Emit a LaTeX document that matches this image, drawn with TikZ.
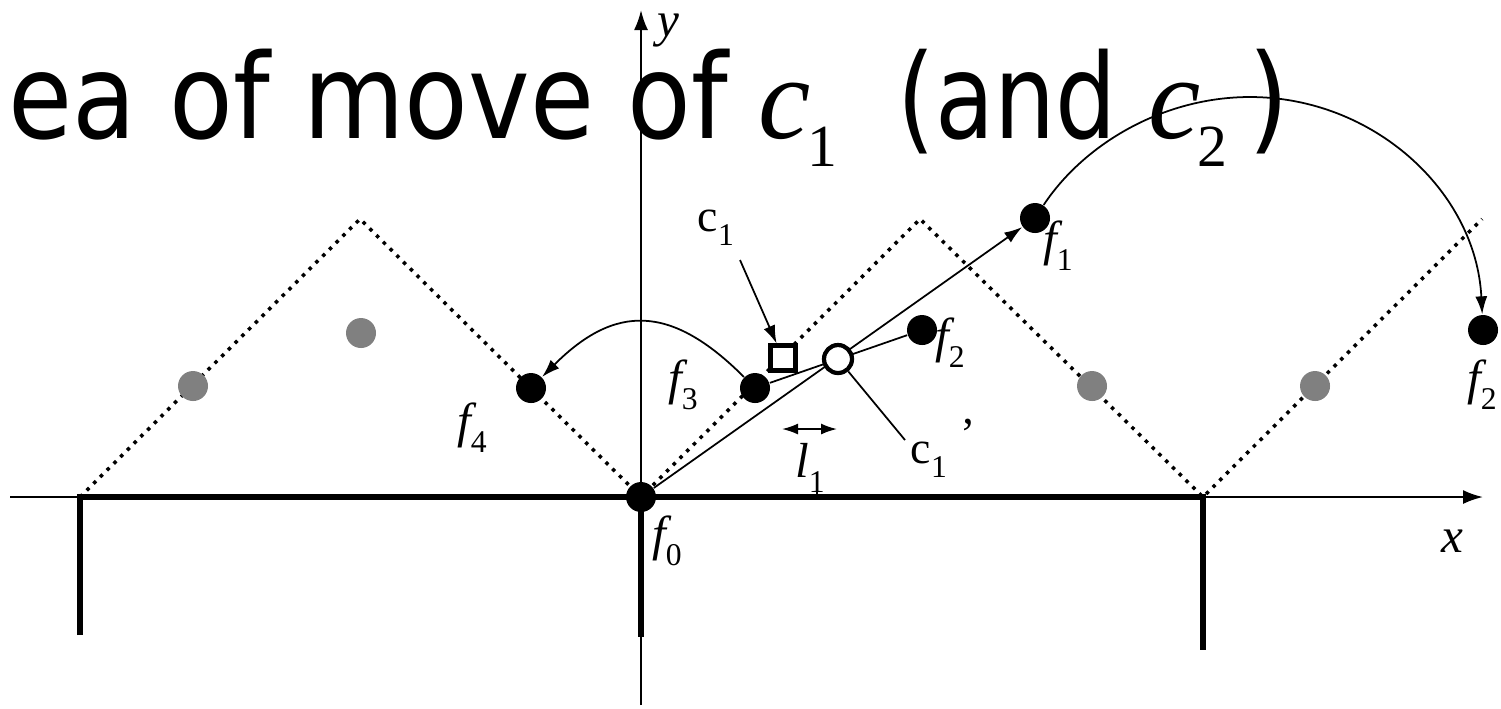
\documentclass[tikz,border=0pt]{standalone}
\usepackage{fontspec}
\usepackage{graphicx}
\setmainfont{Liberation Serif}
\newfontfamily\titlefont{DejaVu Sans}
\usetikzlibrary{arrows.meta, positioning, calc}

% label with an upright subscript
\newcommand{\sublab}[2]{#1\raisebox{-0.3em}{\fontsize{9}{9}\selectfont\upshape #2}}

\begin{document}
\begin{tikzpicture}[x=0.1mm, y=-0.1mm,
    fdot/.style={circle, fill=black, inner sep=0pt, minimum size=3mm},
    ghost/.style={circle, fill=black!50, inner sep=0pt, minimum size=3mm},
    lbl/.style={inner sep=0pt, font=\fontsize{14}{14}\selectfont\itshape},
    clbl/.style={inner sep=0pt, font=\fontsize{13}{13}\selectfont\upshape},
    ttl/.style={inner sep=0pt, anchor=base west, font=\titlefont\fontsize{33.5}{34}\selectfont},
    ttlmath/.style={inner sep=0pt, anchor=base west, font=\fontsize{33.5}{34}\selectfont\itshape},
    wall/.style={line width=1.6pt},
    axis/.style={line width=0.6pt, -{Latex[length=2mm, width=1.4mm]}},
    conn/.style={line width=0.5pt},
    arr/.style={-{Latex[length=1.8mm, width=1.2mm]}},
    trail/.style={line width=1pt, dash pattern=on 1pt off 1.7pt}
]
    \useasboundingbox (0,0) rectangle (1501,708);

    % axes
    \coordinate (xl) at (10,497);
    \coordinate (xr) at (1483,497);
    \coordinate (yb) at (641,705);
    \coordinate (yt) at (641,10);
    \draw[axis] (xl) -- (xr);
    \draw[axis] (yb) -- (yt);
    \node[lbl] (xlab) at (1452,541) {x};
    \node[lbl] (ylab) at (668,30) {y};

    % walls
    \draw[wall] (80,635) -- (80,497) -- (1203,497) -- (1203,650);
    \draw[wall] (641,497) -- (641,637);

    % dotted zig-zag
    \draw[trail] (80,497) -- (360,219) -- (641,497) -- (920,219)
        -- (1203,497) -- (1482,219);

    \foreach \gx/\gy in {193/386, 361/333, 1092/386, 1315/386}
        \node[ghost] at (\gx,\gy) {};

    % points f
    \node[fdot] (f0) at (641,497) {};
    \node[fdot] (f1) at (1035,218) {};
    \node[fdot] (f2) at (922,330) {};
    \node[fdot] (f2b) at (1483,330) {};
    \node[fdot] (f3) at (755,388) {};
    \node[fdot] (f4) at (531,388) {};

    \node[lbl] (lf0) at (667,541) {\sublab{f}{0}};
    \node[lbl] (lf1) at (1058,246) {\sublab{f}{1}};
    \node[lbl] (lf2) at (950,343) {\sublab{f}{2}};
    \node[lbl] (lf2b) at (1482,385) {\sublab{f}{2}};
    \node[lbl] (lf3) at (683,385) {\sublab{f}{3}};
    \node[lbl] (lf4) at (472,428) {\sublab{f}{4}};

    % moves
    \draw[conn, arr] (f0) -- (f1);
    \draw[conn] (f3) -- (f2);
    \draw[conn, arr] (f3) .. controls (671,304) and (615,304) .. (f4);
    \coordinate (peak) at (1250,97);
    \draw[conn, arr] (f1) .. controls (1084,144) and (1163,97) .. (peak)
        .. controls (1373,97) and (1476,191) .. (f2b);

    % c1 and c1'
    \node[draw, fill=white, line width=1.2pt, inner sep=0pt, minimum size=2.5mm] (c1) at (783,358) {};
    \node[circle, draw, fill=white, line width=1.2pt, inner sep=0pt, minimum size=2.8mm] (c1p) at (838,359) {};

    \node[clbl] (lc1) at (716,228) {\sublab{c}{1}};
    \coordinate (c1tail) at (740,260);
    \draw[conn, arr] (c1tail) -- (c1);

    \node[clbl, anchor=west] (lc1p) at (910,448) {\sublab{c}{1}\hspace{4pt}\raisebox{4pt}{'}};
    \coordinate (c1ptail) at (905,440);
    \draw[conn] (c1p) -- (c1ptail);

    % l1
    \coordinate (l1a) at (782,429);
    \coordinate (l1b) at (837,429);
    \draw[conn, {Latex[length=1.6mm, width=1.1mm]}-{Latex[length=1.6mm, width=1.1mm]}] (l1a) -- (l1b);
    \node[lbl] (ll1) at (810,468) {\sublab{l}{1}};
    \draw[conn] (817,487) -- (817,497);

    % title
    \node[ttl] (t1) at (8,138) {\scalebox{0.885}[1]{ea of move of}};
    \node[ttlmath] (t2) at (758,138) {c\kern-1pt\raisebox{-8.2pt}{\fontsize{17}{17}\selectfont\upshape 1}};
    \node[ttl] (t3) at (897,138) {\scalebox{0.82}[1]{(and}};
    \node[ttlmath] (t4) at (1148,138) {c\kern-1pt\raisebox{-8.2pt}{\fontsize{17}{17}\selectfont\upshape 2}};
    \node[ttl] (t5) at (1248,138) {\scalebox{0.885}[1]{)}};
\end{tikzpicture}
\end{document}
